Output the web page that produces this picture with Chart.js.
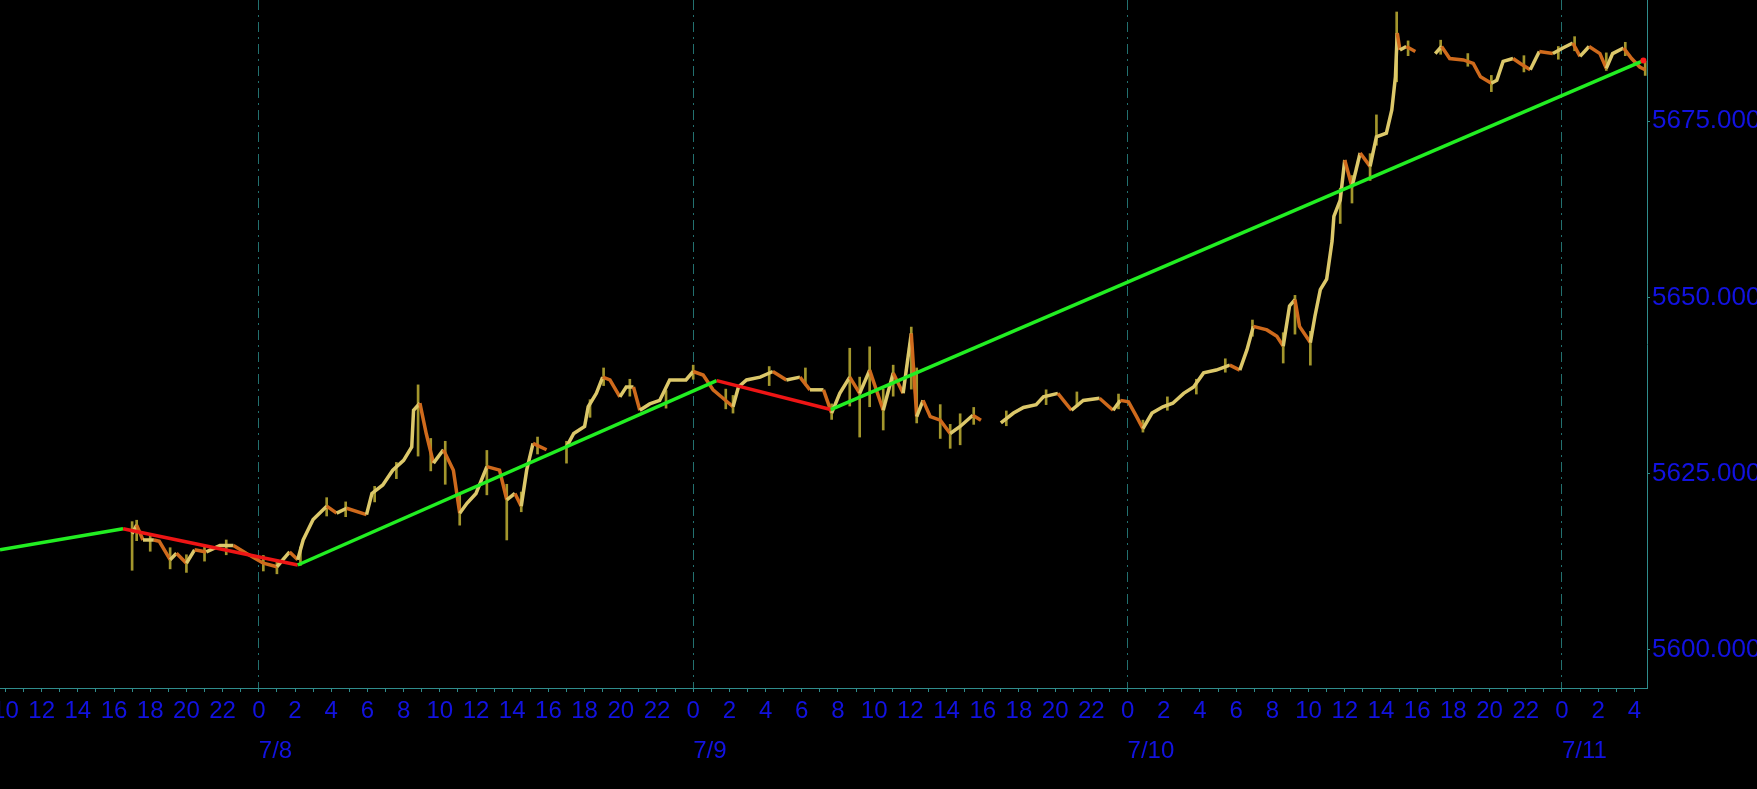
<!DOCTYPE html>
<html>
<head>
<meta charset="utf-8">
<script src="https://cdn.jsdelivr.net/npm/chart.js@4.4.1/dist/chart.umd.min.js"></script>
<style>
  html, body { margin: 0; padding: 0; background: #000; }
  #wrap { width: 1757px; height: 789px; }
</style>
</head>
<body>
<div id="wrap"><canvas id="priceChart"></canvas></div>
<script>
// hours counted from 7/8 00:00, null = market break
const priceHours = [
  -7.0, -6.75, -6.4, -5.8, -5.5, -4.9, -4.55, -4.0, -3.55, -2.9, -2.15, -1.4, -0.7,
  0.25, 1.0, 1.7, 2.15, 2.45, 3.0, 3.75, 4.3, 4.85, 5.95, 6.25, 6.85, 7.4, 8.0,
  8.45, 8.55, 8.9, 9.25, 9.65, 10.2, 10.75, 11.1, 11.5, 12.0, 12.6, 13.3, 13.7,
  14.15, 14.5, 14.8, 15.15, 15.9, 16.4,
  17.0, 17.4, 18.0, 18.2, 18.65, 19.0, 19.4, 19.95, 20.3, 20.7, 21.05, 21.6, 22.15,
  22.7, 23.6, 24.0, 24.55, 25.1, 25.65, 26.2, 26.5, 26.95, 27.7, 28.4, 29.15, 29.9,
  30.45, 31.2, 31.65, 32.1, 32.65, 33.2, 33.75, 34.5, 35.05, 35.6, 36.05, 36.35,
  36.7, 37.1, 37.65, 38.2, 38.75, 39.45, 39.9, 40.4,
  41.0, 41.7, 42.25, 42.95, 43.35, 44.15, 44.9, 45.55, 46.45, 47.2, 47.6, 48.05,
  48.5, 48.85, 49.35, 49.95, 50.5, 51.1, 51.65, 52.2, 52.9, 53.65, 54.2, 54.6,
  54.95, 55.7, 56.25, 56.6, 56.95, 57.25, 57.5, 58.1, 58.35, 58.65, 59.0, 59.3,
  59.4, 59.75, 60.0, 60.4, 60.85, 61.4, 61.75, 62.3, 62.6, 62.8, 62.9, 63.05, 63.4,
  63.9, 64.4,
  65.0, 65.35, 65.8, 66.55, 67.1, 67.5, 68.1, 68.4, 68.75, 69.3, 69.7, 70.25,
  70.75, 71.5, 72.05, 72.6, 73.0, 73.5, 74.1, 74.45, 74.8, 75.4, 75.85, 76.3, 76.6
];
const priceClose = [
  5616.5, 5617.7, 5615.6, 5615.6, 5615.4, 5612.8, 5613.7, 5612.3, 5614.2, 5613.9, 5614.8, 5614.8, 5613.7,
  5612.3, 5611.8, 5613.9, 5612.8, 5615.6, 5618.5, 5620.4, 5619.4, 5620.1, 5619.2, 5622.2, 5623.4, 5625.5, 5626.9,
  5628.8, 5634.0, 5635.0, 5630.7, 5626.5, 5628.4, 5625.5, 5619.4, 5620.8, 5622.2, 5626.0, 5625.5, 5621.3,
  5622.2, 5620.4, 5625.5, 5629.3, 5628.4, null,
  5628.8, 5630.7, 5631.7, 5634.5, 5636.4, 5638.7, 5638.3, 5635.9, 5637.3, 5637.3, 5634.0, 5634.9, 5635.4,
  5638.3, 5638.3, 5639.5, 5639.0, 5636.9, 5635.7, 5634.5, 5637.3, 5638.3, 5638.7, 5639.5, 5638.3, 5638.7,
  5636.9, 5636.9, 5633.6, 5636.4, 5638.7, 5636.4, 5639.7, 5634.0, 5639.3, 5636.4, 5644.9, 5633.1,
  5635.4, 5633.1, 5632.6, 5630.7, 5631.7, 5633.3, 5632.6, null,
  5632.2, 5633.6, 5634.4, 5634.8, 5635.9, 5636.4, 5634.0, 5635.4, 5635.7, 5634.0, 5635.4, 5635.2,
  5633.1, 5631.4, 5633.6, 5634.5, 5635.0, 5636.4, 5637.3, 5639.3, 5639.7, 5640.4, 5639.7, 5642.6,
  5645.9, 5645.4, 5644.5, 5643.1, 5648.8, 5649.7, 5645.9, 5643.6, 5647.3, 5651.1, 5652.6, 5658.0,
  5661.5, 5663.8, 5669.5, 5665.7, 5670.5, 5668.6, 5672.8, 5673.3, 5676.6, 5681.3, 5687.5, 5685.1, 5685.6,
  5684.9, null,
  5684.6, 5685.6, 5683.9, 5683.7, 5683.2, 5681.3, 5680.4, 5680.8, 5683.5, 5683.9, 5683.2, 5682.3,
  5684.9, 5684.6, 5685.4, 5686.1, 5684.2, 5685.6, 5684.6, 5682.5, 5684.6, 5685.4, 5683.9, 5682.7, 5682.3
];

// high / low spikes of the bars
const wickHours = [
  -7.0, -6.75, -6.0, -4.9, -4.0, -3.0, -1.8, 0.25, 1.0, 2.3, 3.75, 4.8, 6.4, 7.6, 8.8,
  9.5, 10.3, 11.1, 12.6, 13.7, 14.5, 15.4,
  17.0, 18.3, 19.05, 20.5, 22.5, 24.0, 25.8, 26.2, 28.2, 30.2, 31.65, 32.65, 33.2,
  33.75, 34.5, 35.05, 36.05, 36.35, 37.65, 38.2, 38.75, 39.5,
  41.3, 43.5, 45.2, 47.5, 48.85, 50.2, 51.8, 53.4, 54.9, 56.6, 57.25, 58.1, 59.75,
  60.4, 61.4, 61.75, 62.87, 63.5,
  65.3, 66.8, 68.1, 69.9, 71.8, 72.7, 74.45, 75.5, 76.6
];
const wickLow = [
  5611.3, 5615.5, 5614.0, 5611.5, 5611.0, 5612.6, 5613.5, 5611.2, 5610.8, 5612.0, 5619.0, 5618.9, 5621.0, 5624.3, 5627.5,
  5625.4, 5623.5, 5617.7, 5622.0, 5615.6, 5619.6, 5627.8,
  5626.5, 5633.0, 5637.5, 5636.0, 5634.3, 5638.4, 5634.2, 5633.6, 5637.5, 5637.6, 5632.7, 5634.6, 5630.2,
  5634.5, 5631.2, 5636.0, 5637.0, 5632.2, 5630.0, 5628.6, 5629.1, 5632.0,
  5631.8, 5634.8, 5634.5, 5634.2, 5630.9, 5634.0, 5636.3, 5639.4, 5644.5, 5640.7, 5644.8, 5640.4, 5660.5,
  5663.4, 5666.6, 5671.6, 5680.6, 5684.3,
  5684.5, 5682.8, 5679.2, 5682.0, 5683.8, 5685.0, 5682.2, 5684.3, 5681.5
];
const wickHigh = [
  5618.2, 5618.4, 5616.5, 5614.5, 5613.5, 5614.6, 5615.6, 5613.4, 5612.8, 5614.6, 5621.6, 5621.0, 5623.2, 5626.6, 5637.6,
  5630.0, 5629.6, 5622.0, 5628.3, 5623.5, 5622.4, 5630.2,
  5629.6, 5635.5, 5640.0, 5638.4, 5636.8, 5640.4, 5637.0, 5636.1, 5640.2, 5640.0, 5634.9, 5642.8, 5638.7,
  5643.0, 5637.0, 5640.4, 5645.8, 5640.0, 5634.8, 5632.0, 5633.5, 5634.4,
  5633.9, 5636.9, 5636.6, 5636.3, 5632.6, 5635.9, 5638.4, 5641.3, 5646.8, 5645.0, 5650.3, 5645.2, 5665.5,
  5667.3, 5670.4, 5675.9, 5690.5, 5686.4,
  5686.5, 5684.6, 5681.5, 5684.3, 5685.6, 5687.0, 5684.7, 5686.2, 5683.5
];

// zigzag swing line
const swingHours = [-14.3, -7.5, 2.15, 25.3, 31.6, 76.5];
const swingValues = [5614.2, 5617.2, 5612.05, 5638.2, 5634.1, 5683.6];

const dayHours = [0, 24, 48, 72];
const dayLabels = ["7/8", "7/9", "7/10", "7/11"];
const priceTicks = [5600, 5625, 5650, 5675];

const hourMin = -14.3;
const hourMax = 76.7;

const TEAL = "#2f8c8c";
const BLUE = "#1212e0";
const FONT = "'Liberation Sans', Arial, sans-serif";

const pricePoints = priceHours.map((h, i) => ({ x: h, y: priceClose[i] }));
const wickPoints = wickHours.map((h, i) => ({ x: h, y: [wickLow[i], wickHigh[i]] }));
const swingPoints = swingHours.map((h, i) => ({ x: h, y: swingValues[i] }));

const hourTicks = [];
for (let h = Math.ceil(hourMin); h <= Math.floor(hourMax); h++) hourTicks.push(h);

const ctx = document.getElementById("priceChart").getContext("2d");
const chart = new Chart(ctx, {
  type: "line",
  data: {
    datasets: [
      {
        type: "bar",
        label: "range",
        data: wickPoints,
        backgroundColor: "#a3962c",
        barThickness: 2,
        order: 3,
      },
      {
        label: "price",
        data: pricePoints,
        borderColor: "#dcc86a",
        borderWidth: 3.5,
        pointRadius: 0,
        spanGaps: false,
        segment: {
          borderColor: (c) => (c.p1.parsed.y < c.p0.parsed.y ? "#cf6a1c" : "#dcc86a"),
        },
        order: 2,
      },
      {
        label: "swing",
        data: swingPoints,
        borderWidth: 3.5,
        pointRadius: (c) => (c.dataIndex === swingPoints.length - 1 ? 3 : 0),
        pointBackgroundColor: "#ff1a1a",
        pointBorderWidth: 0,
        segment: {
          borderColor: (c) => (c.p1.parsed.y < c.p0.parsed.y ? "#ee1515" : "#22ee22"),
        },
        order: 1,
      },
    ],
  },
  options: {
    responsive: true,
    maintainAspectRatio: false,
    animation: false,
    layout: { padding: 0, autoPadding: false },
    plugins: {
      legend: { display: false },
      tooltip: { enabled: false },
    },
    scales: {
      x: {
        type: "linear",
        position: "bottom",
        min: hourMin,
        max: hourMax,
        offset: false,
        weight: 0,
        afterBuildTicks: (scale) => {
          scale.ticks = hourTicks.map((v) => ({ value: v }));
        },
        afterFit: (scale) => {
          scale.height = 38;
          scale.paddingLeft = 0;
          scale.paddingRight = 0;
        },
        ticks: {
          autoSkip: false,
          maxRotation: 0,
          padding: 5,
          color: BLUE,
          font: { family: FONT, size: 24 },
          callback: (v) => {
            const hod = ((v % 24) + 24) % 24;
            return hod % 2 === 0 ? String(hod) : "";
          },
        },
        grid: {
          offset: false,
          drawOnChartArea: true,
          color: (c) => (c.tick && ((c.tick.value % 24) + 24) % 24 === 0 ? "#22706f" : "rgba(0,0,0,0)"),
          tickColor: TEAL,
          tickLength: 4,
          lineWidth: 1,
        },
        border: { display: true, color: TEAL, width: 1, dash: [10, 5, 2, 5] },
      },
      days: {
        type: "linear",
        position: "bottom",
        min: hourMin,
        max: hourMax,
        offset: false,
        weight: 1,
        afterBuildTicks: (scale) => {
          scale.ticks = dayHours.map((v) => ({ value: v }));
        },
        afterFit: (scale) => {
          scale.height = 63;
          scale.paddingLeft = 0;
          scale.paddingRight = 0;
        },
        ticks: {
          autoSkip: false,
          maxRotation: 0,
          align: "start",
          padding: 3,
          color: BLUE,
          font: { family: FONT, size: 24 },
          callback: (v) => dayLabels[dayHours.indexOf(v)] || "",
        },
        grid: { display: false },
        border: { display: false },
      },
      y: {
        type: "linear",
        position: "right",
        min: 5594.6,
        max: 5692.2,
        afterBuildTicks: (scale) => {
          scale.ticks = priceTicks.map((v) => ({ value: v }));
        },
        afterFit: (scale) => {
          scale.width = 110;
          scale.paddingTop = 0;
          scale.paddingBottom = 0;
        },
        ticks: {
          padding: 2,
          color: BLUE,
          font: { family: FONT, size: 26 },
          callback: (v) => v.toFixed(3),
        },
        grid: {
          drawOnChartArea: false,
          tickColor: TEAL,
          tickLength: 3,
        },
        border: { display: true, color: TEAL, width: 1 },
      },
    },
  },
});
</script>
</body>
</html>
